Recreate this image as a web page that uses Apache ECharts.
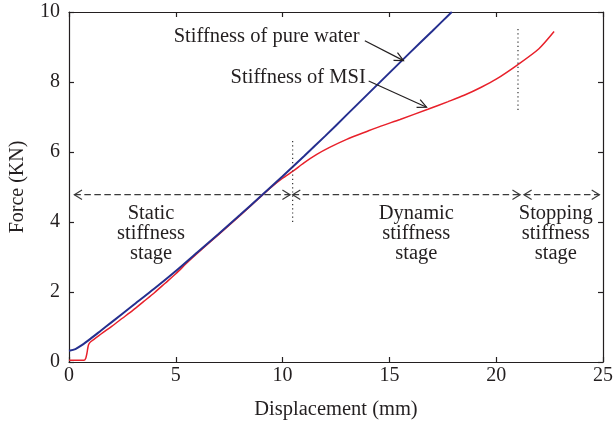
<!DOCTYPE html>
<html><head><meta charset="utf-8">
<script src="https://cdn.jsdelivr.net/npm/echarts@6/dist/echarts.min.js"></script>
<style>html,body{margin:0;padding:0;background:#fff}#c{width:616px;height:426px}</style>
</head><body><div id="c"></div>
<script>
// ---- data ----
const waterX = [0,0.3,0.6,1,1.5,2,3,4,5,6,7,8,9,10,11,12,13,14,15,16,17,17.92];
const waterY = [0.32,0.37,0.48,0.66,0.9,1.14,1.62,2.1,2.6,3.13,3.66,4.2,4.75,5.31,5.88,6.46,7.06,7.66,8.26,8.86,9.45,10.0];
const msiX = [0,0.7,0.78,0.84,0.88,0.92,1.0,1.5,2,2.5,3,3.5,4,4.5,5,5.5,6,7,8,9,9.5,10,10.5,11,11.6,12.2,13,14,14.6,15.5,16.8,17.75,18.5,19.3,20,21,22,22.71];
const msiY = [0.05,0.05,0.1,0.25,0.4,0.5,0.57,0.8,1.02,1.25,1.48,1.73,1.98,2.25,2.52,2.82,3.1,3.64,4.18,4.74,5.01,5.25,5.46,5.69,5.93,6.13,6.36,6.6,6.74,6.93,7.22,7.44,7.62,7.85,8.08,8.49,8.95,9.44];
const xTicks = [0,5,10,15,20,25];
const yTicks = [0,2,4,6,8,10];
const seriesNames = ['Stiffness of pure water','Stiffness of MSI'];
const stageNames = ['Static\nstiffness\nstage','Dynamic\nstiffness\nstage','Stopping\nstiffness\nstage'];
// stage boundaries (mm) and level of stage arrows (KN)
const stageSpans = [[0.25,10.35],[10.47,21.12],[21.3,24.83]];
const stageArrowY = 4.78;
const stageLabelX = [3.84,16.26,22.79];
const stageLabelY = 3.66;
const boundaryX = [10.47,21.02];
const boundaryYRange = [[4.0,6.34],[7.2,9.53]];
// callout label anchors and arrow (start, tip) in data units
const calloutLabel = [[9.25,9.29],[10.73,8.13]];
const calloutArrow = [[[13.85,9.18],[15.66,8.61]],[[14.03,8.03],[16.74,7.28]]];

const FONT = '"Liberation Serif", "Times New Roman", serif';
const TXT = '#231f20';
const zip = (a,b)=>a.map((v,i)=>[v,b[i]]);

const chart = echarts.init(document.getElementById('c'), null, {renderer:'canvas'});
const axisCommon = {
  type:'value', axisLine:{show:true,onZero:false,lineStyle:{color:'#231f20',width:1.2}},
  axisTick:{show:true,inside:true,length:5,lineStyle:{color:'#231f20',width:1.2}},
  splitLine:{show:false}
};
chart.setOption({
  animation:false,
  grid:{left:68,right:10,top:12,bottom:64},
  xAxis:[
    Object.assign({}, axisCommon, {min:0,max:25,interval:5,position:'bottom',
      name:'Displacement (mm)',nameLocation:'middle',nameGap:37,
      nameTextStyle:{fontFamily:FONT,fontSize:20.5,color:TXT},
      axisLabel:{fontFamily:FONT,fontSize:20,color:TXT,margin:4,
        formatter:v=>xTicks.includes(v)?String(v):''}}),
    Object.assign({}, axisCommon, {min:0,max:25,interval:5,position:'top',axisLabel:{show:false}})
  ],
  yAxis:[
    Object.assign({}, axisCommon, {min:0,max:10,interval:2,position:'left',
      name:'Force (KN)',nameLocation:'middle',nameGap:41,
      nameTextStyle:{fontFamily:FONT,fontSize:20,color:TXT},
      axisLabel:{fontFamily:FONT,fontSize:20,color:TXT,margin:9,
        formatter:v=>yTicks.includes(v)?String(v):''}}),
    Object.assign({}, axisCommon, {min:0,max:10,interval:2,position:'right',axisLabel:{show:false}})
  ],
  series:[
    {name:seriesNames[0],type:'line',data:zip(waterX,waterY),showSymbol:false,smooth:0.25,
      lineStyle:{color:'#252f8f',width:2},z:3},
    {name:seriesNames[1],type:'line',data:zip(msiX,msiY),showSymbol:false,smooth:0.25,
      lineStyle:{color:'#e8202a',width:1.5},z:2}
  ]
});

const P = (x,y)=>chart.convertToPixel({xAxisIndex:0,yAxisIndex:0},[x,y]);
const g = [];
const DASH = '#3a3a3a';
function chevron(tip, dx, dy, len, spread, color){
  const L = Math.hypot(dx,dy); const ux=dx/L, uy=dy/L;
  const c=Math.cos(spread), s=Math.sin(spread);
  const a=[tip[0]-len*(ux*c-uy*s), tip[1]-len*(uy*c+ux*s)];
  const b=[tip[0]-len*(ux*c+uy*s), tip[1]-len*(uy*c-ux*s)];
  g.push({type:'polyline',shape:{points:[a,tip,b]},style:{stroke:color,lineWidth:1.2,fill:null},z:10});
}
stageSpans.forEach(([x0,x1])=>{
  const p0=P(x0,stageArrowY), p1=P(x1,stageArrowY);
  g.push({type:'line',shape:{x1:p0[0],y1:p0[1],x2:p1[0],y2:p1[1]},
    style:{stroke:DASH,lineWidth:1.3,lineDash:[6.5,3.5]},z:10});
  chevron(p0,-1,0,9,0.55,DASH);
  chevron(p1,1,0,9,0.55,DASH);
});
boundaryX.forEach((x,i)=>{
  const p0=P(x,boundaryYRange[i][0]), p1=P(x,boundaryYRange[i][1]);
  g.push({type:'line',shape:{x1:p0[0],y1:p0[1],x2:p1[0],y2:p1[1]},
    style:{stroke:'#333',lineWidth:1.2,lineDash:[1.2,3]},z:10});
});
stageNames.forEach((t,i)=>{
  const p=P(stageLabelX[i],stageLabelY);
  g.push({type:'text',x:p[0],y:p[1],style:{text:t,fontFamily:FONT,fontSize:20.5,lineHeight:20,
    fill:TXT,align:'center',verticalAlign:'middle'},z:11});
});
seriesNames.forEach((t,i)=>{
  const p=P(calloutLabel[i][0],calloutLabel[i][1]);
  g.push({type:'text',x:p[0],y:p[1],style:{text:t,fontFamily:FONT,fontSize:20.5,
    fill:TXT,align:'center',verticalAlign:'middle'},z:11});
  const a=P(calloutArrow[i][0][0],calloutArrow[i][0][1]);
  const b=P(calloutArrow[i][1][0],calloutArrow[i][1][1]);
  g.push({type:'line',shape:{x1:a[0],y1:a[1],x2:b[0],y2:b[1]},style:{stroke:'#231f20',lineWidth:1.2},z:10});
  chevron(b,b[0]-a[0],b[1]-a[1],10,0.45,'#231f20');
});
chart.setOption({graphic:g});
</script></body></html>
